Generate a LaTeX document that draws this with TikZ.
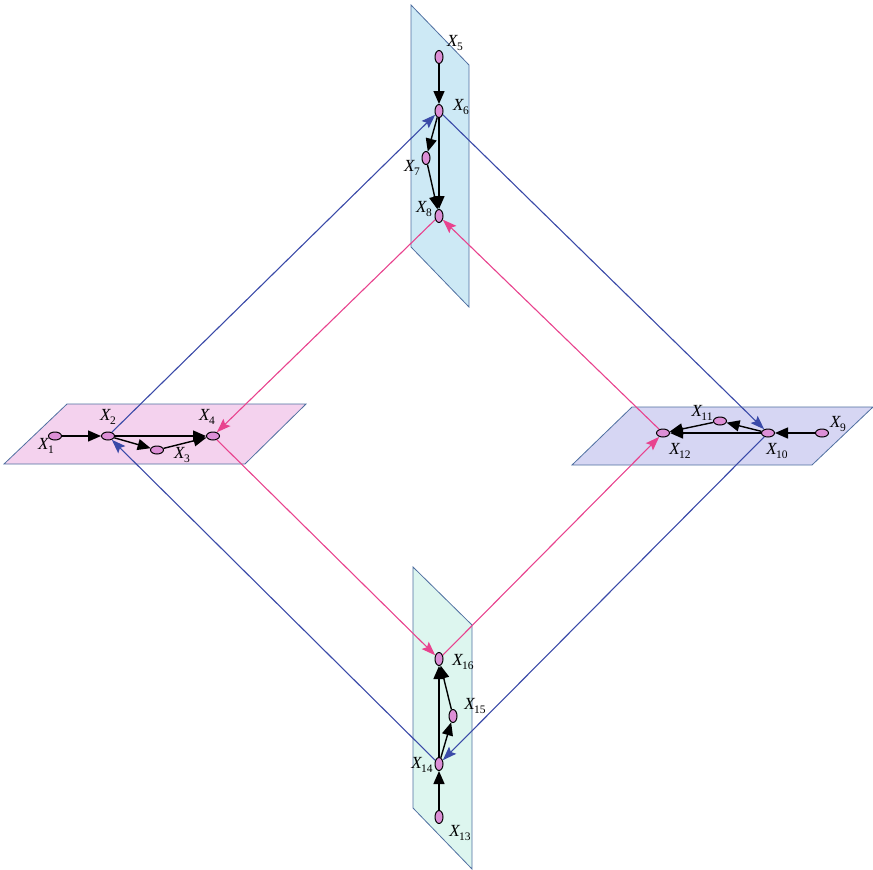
\documentclass[tikz,border=0pt]{standalone}
\usepackage{fontspec}
\setmainfont{Liberation Serif}
\usetikzlibrary{arrows.meta,shapes.geometric}

\definecolor{planeedge}{HTML}{4F6FA0}
\definecolor{topfill}{HTML}{CDE9F5}
\definecolor{leftfill}{HTML}{F4D2EE}
\definecolor{rightfill}{HTML}{D6D6F3}
\definecolor{botfill}{HTML}{DDF6EF}
\definecolor{nodefill}{HTML}{DC8FD6}
\definecolor{linkblue}{HTML}{3A4AA8}
\definecolor{linkpink}{HTML}{E8438E}

% variable label: italic X with an upright numeric subscript
\newcommand\xv[1]{\textit{X}\kern-1pt\raisebox{-0.45ex}{\fontsize{11.5}{11.5}\selectfont#1}}

\tikzset{
  plane/.style={draw=planeedge, line width=0.8pt},
  hvar/.style={ellipse, draw, fill=nodefill, line width=1pt,
    minimum width=13pt, minimum height=8pt, inner sep=0pt},
  vvar/.style={ellipse, draw, fill=nodefill, line width=1pt,
    minimum width=8pt, minimum height=13pt, inner sep=0pt},
  dep/.style={line width=1.4pt, -{Triangle[length=13pt,width=11pt]}},
  bluelink/.style={draw=linkblue, line width=1.1pt,
    -{Stealth[length=14pt,width=10pt,inset=2.5pt]}},
  pinklink/.style={draw=linkpink, line width=1.1pt,
    -{Stealth[length=14pt,width=10pt,inset=2.5pt]}},
  lab/.style={font=\fontsize{17}{17}\selectfont, inner sep=0pt}
}

\begin{document}
\begin{tikzpicture}[x=1pt,y=-1pt]
\useasboundingbox (0,0) rectangle (873,870);

% the four planes
\filldraw[plane, fill=topfill]   (411,5) -- (469,65) -- (469,307) -- (411,247) -- cycle;
\filldraw[plane, fill=leftfill]  (67,404) -- (306,404) -- (245,464) -- (4,464) -- cycle;
\filldraw[plane, fill=rightfill] (632,407) -- (873,407) -- (812,465) -- (572,465) -- cycle;
\filldraw[plane, fill=botfill]   (413,567) -- (472,625) -- (472,869) -- (413,808) -- cycle;

% variables of the left plane
\node[hvar] (x1) at (55,436) {};
\node[hvar] (x2) at (108,436) {};
\node[hvar] (x3) at (157,450) {};
\node[hvar] (x4) at (213,436) {};
% variables of the top plane
\node[vvar] (x5) at (439,57) {};
\node[vvar] (x6) at (439,111) {};
\node[vvar] (x7) at (426,158) {};
\node[vvar] (x8) at (439,216) {};
% variables of the right plane
\node[hvar] (x9)  at (822,433) {};
\node[hvar] (x10) at (768,433) {};
\node[hvar] (x11) at (720,421) {};
\node[hvar] (x12) at (663,433) {};
% variables of the bottom plane
\node[vvar] (x13) at (439,817) {};
\node[vvar] (x14) at (439,764) {};
\node[vvar] (x15) at (453,716) {};
\node[vvar] (x16) at (439,659) {};

% labels
\node[lab] (l1)  at (46,446)  {\xv{1}};
\node[lab] (l2)  at (108,417) {\xv{2}};
\node[lab] (l3)  at (182,455) {\xv{3}};
\node[lab] (l4)  at (207,417) {\xv{4}};
\node[lab] (l5)  at (455,43)  {\xv{5}};
\node[lab] (l6)  at (461,107) {\xv{6}};
\node[lab] (l7)  at (412,168) {\xv{7}};
\node[lab] (l8)  at (424,209) {\xv{8}};
\node[lab] (l9)  at (838,424) {\xv{9}};
\node[lab] (l10) at (777,451) {\xv{10}};
\node[lab] (l11) at (702,413) {\xv{11}};
\node[lab] (l12) at (680,451) {\xv{12}};
\node[lab] (l13) at (460,833) {\xv{13}};
\node[lab] (l14) at (422,765) {\xv{14}};
\node[lab] (l15) at (475,706) {\xv{15}};
\node[lab] (l16) at (463,662) {\xv{16}};

% links between planes
\draw[bluelink] (x2) -- (x6);
\draw[bluelink] (x6) -- (x10);
\draw[bluelink] (x10) -- (x14);
\draw[bluelink] (x14) -- (x2);
\draw[pinklink] (x8) -- (x4);
\draw[pinklink] (x4) -- (x16);
\draw[pinklink] (x16) -- (x12);
\draw[pinklink] (x12) -- (x8);

% dependencies within each plane
\draw[dep] (x1) -- (x2);
\draw[dep] (x2) -- (x4);
\draw[dep] (x2) -- (x3);
\draw[dep] (x3) -- (x4);
\draw[dep] (x5) -- (x6);
\draw[dep] (x6) -- (x7);
\draw[dep] (x6) -- (x8);
\draw[dep] (x7) -- (x8);
\draw[dep] (x9) -- (x10);
\draw[dep] (x10) -- (x11);
\draw[dep] (x10) -- (x12);
\draw[dep] (x11) -- (x12);
\draw[dep] (x13) -- (x14);
\draw[dep] (x14) -- (x16);
\draw[dep] (x14) -- (x15);
\draw[dep] (x15) -- (x16);
\end{tikzpicture}
\end{document}
